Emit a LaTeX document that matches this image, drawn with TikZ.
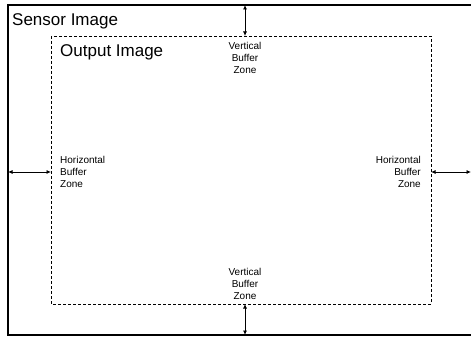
\documentclass[tikz,border=0pt]{standalone}
\usepackage{fontspec}
\setmainfont{Liberation Sans}
\usetikzlibrary{arrows.meta}
\tikzset{
  big/.style={font=\fontsize{17}{20}\selectfont, inner sep=0pt},
  small/.style={font=\fontsize{10}{12}\selectfont, inner sep=0pt},
  outerframe/.style={draw=black, line width=1.1pt},
  innerframe/.style={draw=black, line width=0.9pt, dash pattern=on 3pt off 2pt},
  dimarrow/.style={line width=0.8pt, {Latex[length=4.5pt,width=4pt]}-{Latex[length=4.5pt,width=4pt]}}
}
\begin{document}
\begin{tikzpicture}[x=1pt,y=-1pt]
\useasboundingbox (0,0) rectangle (471,339);
% outer sensor rectangle
\draw[outerframe] (480,5) -- (8,5) -- (8,335) -- (480,335);
% inner output rectangle
\draw[innerframe] (51,36) rectangle (431,304);
% coordinates on edges
\coordinate (st) at (245,5);
\coordinate (ot) at (245,36);
\coordinate (ob) at (245,304);
\coordinate (sb) at (245,335);
\coordinate (sl) at (8,172);
\coordinate (ol) at (51,172);
\coordinate (or) at (431,172);
\coordinate (sr) at (471,172);
\draw[dimarrow] (st) -- (ot);
\draw[dimarrow] (ob) -- (sb);
\draw[dimarrow] (sl) -- (ol);
\draw[dimarrow] (or) -- (sr);
% labels
\node[big, anchor=base west] (sensor) at (12,26) {Sensor Image};
\node[big, anchor=base west] (output) at (60,57) {Output Image};
\node[small, align=center] (vtop) at (245,58) {Vertical\\Buffer\\Zone};
\node[small, align=center] (vbot) at (245,284) {Vertical\\Buffer\\Zone};
\node[small, align=left, anchor=west] (hleft) at (60,172) {Horizontal\\Buffer\\Zone};
\node[small, align=right, anchor=east] (hright) at (421,172) {Horizontal\\Buffer\\Zone};
\end{tikzpicture}
\end{document}
